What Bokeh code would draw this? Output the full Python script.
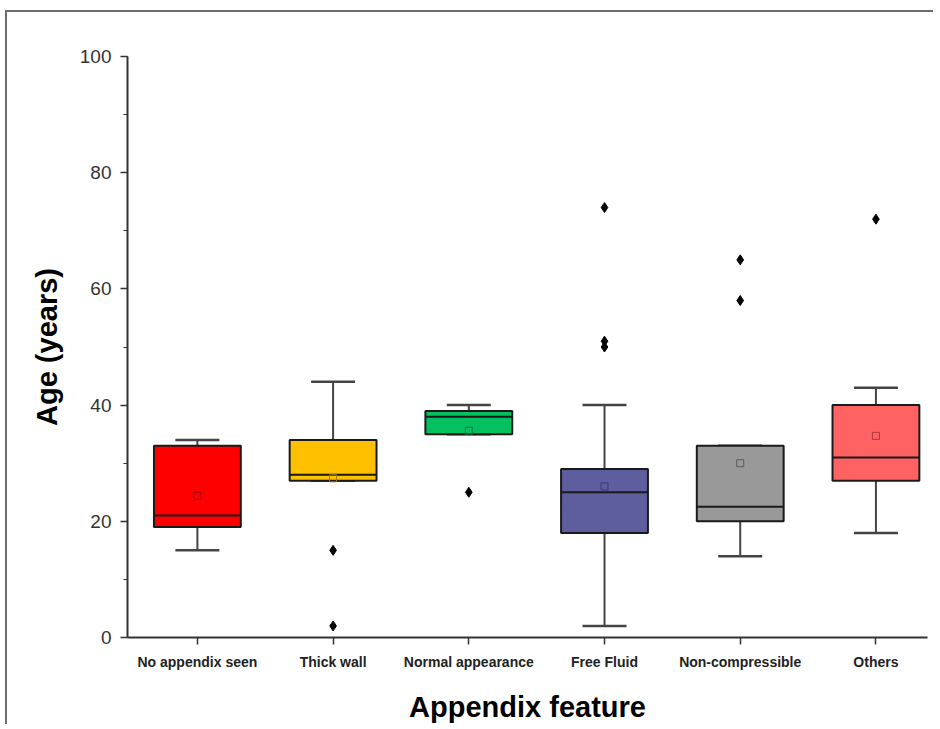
import numpy as np
from bokeh.plotting import figure
from bokeh.models import FixedTicker, SingleIntervalTicker, Range1d
from bokeh.embed import file_html
from bokeh.resources import INLINE

# ---- data ----
categories = ["No appendix seen", "Thick wall", "Normal appearance",
              "Free Fluid", "Non-compressible", "Others"]
q1 = [19, 27, 35, 18, 20, 27]
median = [21, 28, 38, 25, 22.5, 31]
q3 = [33, 34, 39, 29, 33, 40]
whisker_low = [15, 27, 35, 2, 14, 18]
whisker_high = [34, 44, 40, 40, 33, 43]
means = [24.4, 27.4, 35.6, 26.0, 30.0, 34.7]
outlier_cat = [2, 2, 3, 4, 4, 4, 5, 5, 6]
outlier_val = [15, 2, 25, 74, 51, 50, 65, 58, 72]

box_colors = ["#ff0000", "#ffc000", "#00c060", "#5e5e9e", "#999999", "#ff6262"]
mean_colors = ["#9a0000", "#a07800", "#007a3c", "#3a3a70", "#5a5a5a", "#b03a3a"]

x = np.arange(1, len(categories) + 1)
box_w = 0.64

p = figure(width=928, height=714, output_backend="svg", toolbar_location=None,
           x_range=Range1d(0.485, 6.38), y_range=Range1d(0, 100),
           min_border_left=120, min_border_top=44, min_border_right=8,
           min_border_bottom=89)
p.styles = {"border-left": "2px solid #6e6e6e", "border-top": "2px solid #6e6e6e",
            "margin-left": "5px", "margin-top": "10px"}
p.outline_line_color = None
p.grid.visible = False
p.background_fill_color = "white"
p.border_fill_color = "white"

# whiskers (drawn under boxes)
p.segment(x0=x, y0=q3, x1=x, y1=whisker_high, line_color="#444444", line_width=2)
p.segment(x0=x, y0=whisker_low, x1=x, y1=q1, line_color="#444444", line_width=2)
p.dash(x=x, y=whisker_high, size=44, line_color="#444444", line_width=2.5)
p.dash(x=x, y=whisker_low, size=44, line_color="#444444", line_width=2.5)

# boxes
p.vbar(x=x, bottom=q1, top=q3, width=box_w, fill_color=box_colors,
       line_color="#1a1a1a", line_width=2)
# medians
p.segment(x0=x - box_w / 2, y0=median, x1=x + box_w / 2, y1=median,
          line_color="#1a1a1a", line_width=2)
# means
p.scatter(x=x, y=means, marker="square", size=7, fill_color=None,
          line_color=mean_colors, line_width=1)
# outliers
p.scatter(x=outlier_cat, y=outlier_val, marker="diamond", size=10,
          fill_color="black", line_color="black")

# axes
xa = p.xaxis[0]
xa.ticker = FixedTicker(ticks=list(x))
xa.major_label_overrides = {int(i): c for i, c in zip(x, categories)}
xa.axis_label = "Appendix feature"
xa.axis_label_text_font = "Liberation Sans"
xa.axis_label_text_font_style = "bold"
xa.axis_label_text_font_size = "29px"
xa.axis_label_text_color = "black"
xa.axis_label_standoff = 18
xa.major_label_text_font = "Liberation Sans"
xa.major_label_text_font_style = "bold"
xa.major_label_text_font_size = "14px"
xa.major_label_text_color = "#222222"
xa.major_label_standoff = 9
xa.major_tick_out = 7
xa.major_tick_in = 0
xa.minor_tick_out = 0
xa.axis_line_width = 2
xa.axis_line_color = "#333333"
xa.major_tick_line_color = "#333333"
xa.major_tick_line_width = 1.5

ya = p.yaxis[0]
ya.ticker = SingleIntervalTicker(interval=20, num_minor_ticks=2)
ya.axis_label = "Age (years)"
ya.axis_label_text_font = "Liberation Sans"
ya.axis_label_text_font_style = "bold"
ya.axis_label_text_font_size = "29px"
ya.axis_label_text_color = "black"
ya.axis_label_standoff = 14
ya.major_label_text_font = "Liberation Sans"
ya.major_label_text_font_size = "19px"
ya.major_label_text_color = "#333333"
ya.major_label_standoff = 9
ya.major_tick_out = 7
ya.major_tick_in = 0
ya.minor_tick_out = 4
ya.minor_tick_in = 0
ya.axis_line_width = 2
ya.axis_line_color = "#333333"
ya.major_tick_line_color = "#333333"
ya.minor_tick_line_color = "#333333"
ya.major_tick_line_width = 1.5

open("out.html", "w").write(file_html(p, INLINE))
